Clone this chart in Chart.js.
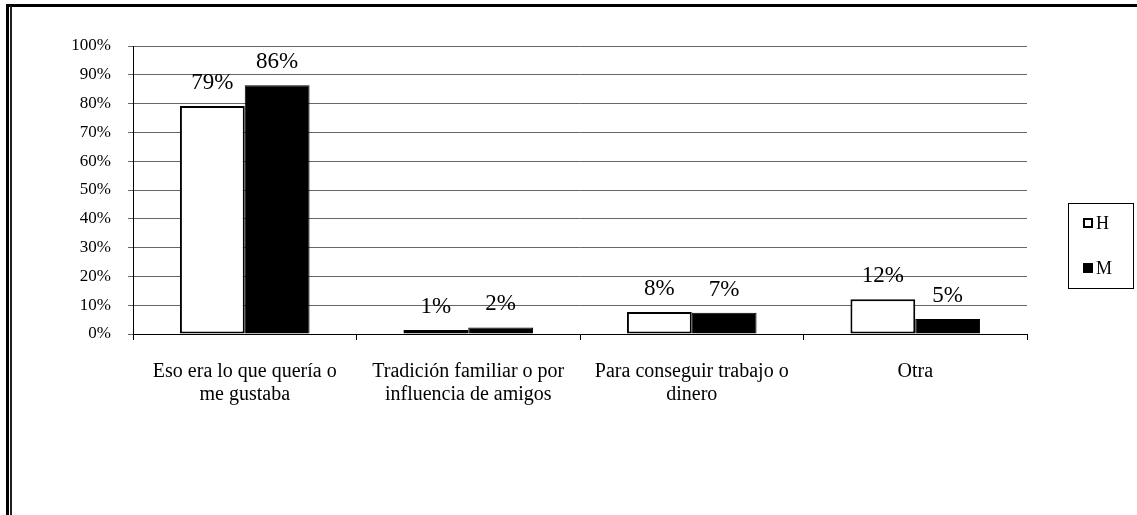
<!DOCTYPE html>
<html lang="es">
<head>
  <meta charset="UTF-8">
  <title>Motivo de elección</title>
  <style>
    body {
        margin: 0;
        padding: 0;
        background: #fff;
    }
    .frame {
        position: relative;
        width: 1137px;
        height: 515px;
        overflow: hidden;
    }
    .line-top {
        position: absolute;
        left: 6px; top: 4px;
        width: 1131px; height: 3px;
        background: #000;
    }
    .line-left {
        position: absolute;
        left: 6px; top: 4px;
        width: 3px; height: 511px;
        background: #000;
    }
    .line-inner {
        position: absolute;
        left: 10px; top: 6px;
        width: 2px; height: 509px;
        background: #222;
    }
    canvas {
        position: absolute;
        left: 0; top: 0;
    }
  </style>
</head>
<body>
  <div class="frame">
    <canvas id="chart" width="1137" height="515"></canvas>
    <div class="line-top"></div>
    <div class="line-left"></div>
    <div class="line-inner"></div>
  </div>

  <script src="https://cdn.jsdelivr.net/npm/chart.js"></script>
  <script>
    // categories and values (percent)
    const categories = [
      ['Eso era lo que quería o', 'me gustaba'],
      ['Tradición familiar o por', 'influencia de amigos'],
      ['Para conseguir trabajo o', 'dinero'],
      ['Otra']
    ];
    const seriesNames = ['H', 'M'];
    const valuesH = [79.2, 1.4, 7.6, 12.1];
    const valuesM = [86.4, 2.3, 7.4, 5.2];

    const serif = "'Liberation Serif', 'Times New Roman', serif";

    // labels over the bars
    const barLabels = {
      id: 'barLabels',
      afterDatasetsDraw(chart) {
        const ctx = chart.ctx;
        ctx.save();
        ctx.font = '23px ' + serif;
        ctx.fillStyle = '#000';
        ctx.textAlign = 'center';
        ctx.textBaseline = 'middle';
        chart.data.datasets.forEach((ds, i) => {
          chart.getDatasetMeta(i).data.forEach((bar, j) => {
            ctx.fillText(Math.round(ds.data[j]) + '%', bar.x, bar.y - 23);
          });
        });
        ctx.restore();
      }
    };

    // legend in a box at the right, drawn from the datasets
    const boxLegend = {
      id: 'boxLegend',
      afterDraw(chart) {
        const ctx = chart.ctx;
        const left = 1068, top = 203, w = 65, h = 85;
        ctx.save();
        ctx.strokeStyle = '#000';
        ctx.lineWidth = 1;
        ctx.strokeRect(left + 0.5, top + 0.5, w, h);
        ctx.font = '18px ' + serif;
        ctx.textBaseline = 'middle';
        chart.data.datasets.forEach((ds, i) => {
          const cy = top + 20 + i * 45;
          ctx.fillStyle = ds.backgroundColor;
          ctx.fillRect(left + 15, cy - 5, 10, 10);
          ctx.strokeStyle = ds.borderColor;
          ctx.lineWidth = 2;
          ctx.strokeRect(left + 16, cy - 4, 8, 8);
          ctx.fillStyle = '#000';
          ctx.fillText(ds.label, left + 28, cy + 1);
        });
        ctx.restore();
      }
    };

    new Chart(document.getElementById('chart'), {
      type: 'bar',
      data: {
        labels: categories,
        datasets: [
          {
            label: seriesNames[0],
            data: valuesH,
            backgroundColor: '#fff',
            borderColor: '#000',
            borderWidth: 2,
            borderSkipped: false
          },
          {
            label: seriesNames[1],
            data: valuesM,
            backgroundColor: '#000',
            borderColor: '#000',
            borderWidth: 1
          }
        ]
      },
      options: {
        responsive: false,
        animation: false,
        categoryPercentage: 0.58,
        barPercentage: 1.0,
        layout: { padding: { left: 0, top: 46, right: 110, bottom: 0 } },
        scales: {
          x: {
            afterFit: s => { s.height = 181; },
            grid: { drawOnChartArea: false, drawTicks: true, tickLength: 6, color: '#000' },
            border: { color: '#000', width: 1 },
            ticks: { color: '#000', font: { family: serif, size: 20, lineHeight: 1.15 }, padding: 20, maxRotation: 0 }
          },
          y: {
            min: 0,
            max: 100,
            afterFit: s => { s.width = 133; },
            grid: { color: '#666', tickLength: 5 },
            border: { color: '#000', width: 1 },
            ticks: {
              stepSize: 10,
              color: '#000',
              padding: 17,
              font: { family: serif, size: 17 },
              callback: v => v + '%'
            }
          }
        },
        plugins: {
          tooltip: { enabled: false },
          legend: { display: false }
        }
      },
      plugins: [barLabels, boxLegend]
    });
  </script>
</body>
</html>
